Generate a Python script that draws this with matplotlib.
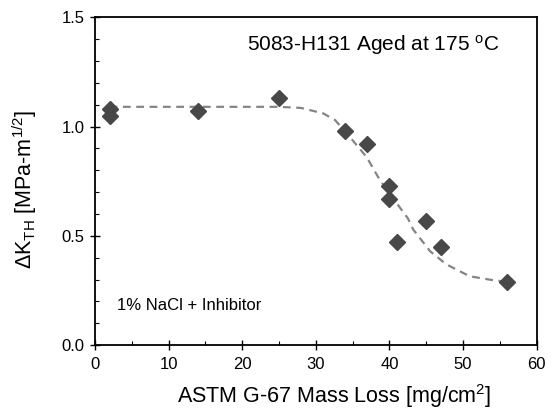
import numpy as np
import matplotlib.pyplot as plt
from matplotlib.ticker import MultipleLocator

plt.rcParams['font.family'] = ['Liberation Sans', 'DejaVu Sans']
plt.rcParams['mathtext.fontset'] = 'custom'
plt.rcParams['mathtext.rm'] = 'Liberation Sans'
plt.rcParams['mathtext.it'] = 'Liberation Sans:italic'

# measured points
mass_loss = [2, 2, 14, 25, 34, 37, 40, 40, 41, 45, 47, 56]
delta_k = [1.08, 1.05, 1.07, 1.13, 0.98, 0.92, 0.73, 0.67, 0.47, 0.57, 0.45, 0.29]

# dashed fit curve
fit_x = [2, 10, 20, 25, 28, 31, 32.6, 34.8, 36.9, 38.7, 41.4, 42.5, 43.2,
         45.5, 47.7, 50.9, 54.1, 56]
fit_y = [1.09, 1.09, 1.09, 1.09, 1.085, 1.06, 1.03, 0.945, 0.86, 0.755,
         0.63, 0.58, 0.53, 0.43, 0.37, 0.315, 0.297, 0.29]

fig = plt.figure(figsize=(5.58, 4.09), dpi=100)
ax = fig.add_axes([0.170, 0.156, 0.792, 0.802])

ax.plot(fit_x, fit_y, color='#858585', lw=1.6, dashes=(3.5, 2.5), zorder=2)
ax.plot(mass_loss, delta_k, 'D', color='#484848', ms=8.5, mec='#484848', zorder=3)

ax.set_xlim(0, 60)
ax.set_ylim(0, 1.5)
ax.xaxis.set_major_locator(MultipleLocator(10))
ax.xaxis.set_minor_locator(MultipleLocator(5))
ax.yaxis.set_major_locator(MultipleLocator(0.5))
ax.yaxis.set_minor_locator(MultipleLocator(0.1))
ax.set_yticklabels([f'{v:.1f}' for v in ax.get_yticks()])
ax.tick_params(which='major', direction='inout', length=7, width=1.0,
               labelsize=12)
ax.tick_params(axis='x', which='major', pad=5)
ax.tick_params(axis='y', which='major', pad=4)
ax.tick_params(which='minor', direction='in', length=3, width=0.8)
for s in ax.spines.values():
    s.set_linewidth(1.3)

ax.set_xlabel('ASTM G-67 Mass Loss [mg/cm$^2$]', fontsize=15.5, va='baseline')
ax.set_ylabel(r'$\Delta$K$_{\rm TH}$ [MPa-m$^{1/2}$]', fontsize=15.5)
ax.xaxis.set_label_coords(0.541, -0.175)
ax.yaxis.set_label_coords(-0.127, 0.474)

ax.text(0.631, 0.899, '5083-H131 Aged at 175 $^{\\rm o}$C', transform=ax.transAxes,
        fontsize=15, ha='center', va='baseline')
ax.text(0.049, 0.107, '1% NaCl + Inhibitor', transform=ax.transAxes,
        fontsize=12, ha='left', va='baseline')

fig.savefig('out.png', dpi=100)
